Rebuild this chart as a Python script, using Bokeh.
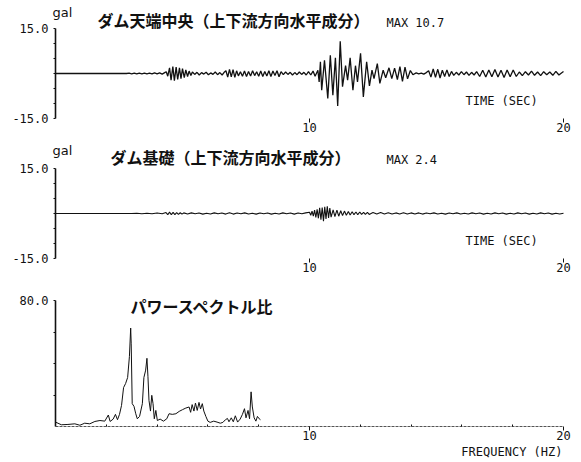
from bokeh.plotting import figure
from bokeh.models import Range1d, FixedTicker, PrintfTickFormatter, Label
from bokeh.layouts import column
from bokeh.embed import file_html
from bokeh.resources import INLINE

# ---------------- data ----------------
crest_title = "ダム天端中央（上下流方向水平成分）"
crest_max = "MAX 10.7"
crest_t = [0.0, 2.8,
           2.9, 3.0, 3.1, 3.2, 3.3, 3.4, 3.5, 3.6, 3.7, 3.8, 3.9, 4.0, 4.1, 4.2, 4.3,
           4.36, 4.42, 4.49, 4.55, 4.62, 4.68, 4.75, 4.81, 4.88, 4.94, 5.0, 5.07, 5.13, 5.2, 5.26, 5.33, 5.39,
           5.48, 5.57, 5.66, 5.75, 5.84, 5.93, 6.02, 6.11, 6.2, 6.29, 6.38, 6.47, 6.56, 6.64,
           6.71, 6.78, 6.85, 6.92, 6.99, 7.06, 7.13, 7.2,
           7.28, 7.36, 7.44, 7.52, 7.6, 7.68, 7.76, 7.84, 7.92, 8.0, 8.08, 8.16, 8.24, 8.32, 8.4, 8.48, 8.56, 8.64, 8.72, 8.8, 8.88,
           8.97, 9.06, 9.15, 9.24, 9.33, 9.42, 9.51, 9.6, 9.69, 9.78, 9.87, 9.96, 10.05, 10.14, 10.22,
           10.33, 10.38, 10.43, 10.48, 10.59, 10.72, 10.82, 10.92, 11.02, 11.11, 11.21, 11.3, 11.42, 11.5, 11.6, 11.71,
           11.81, 11.89, 12.01, 12.12, 12.25, 12.36, 12.46, 12.54, 12.67, 12.77, 12.9, 13.0, 13.13, 13.24,
           13.35, 13.46, 13.56, 13.66, 13.76, 13.86, 13.97, 14.07,
           14.2, 14.3, 14.4, 14.5, 14.6,
           14.69, 14.78, 14.87, 14.96, 15.05, 15.14, 15.23, 15.32, 15.41, 15.5, 15.59, 15.68,
           15.78, 15.88, 15.98, 16.08, 16.18, 16.28, 16.38, 16.48, 16.58,
           16.7, 16.82, 16.94, 17.06, 17.18, 17.3, 17.42, 17.54, 17.66, 17.78, 17.9, 18.02, 18.14,
           18.26, 18.38, 18.5, 18.62, 18.74, 18.86, 18.98, 19.1, 19.22, 19.34, 19.46, 19.58, 19.7, 19.82, 19.92, 20.0]
crest_v = [0.0, 0.0,
           0.1, -0.1, 0.1, -0.15, 0.1, -0.1, 0.15, -0.1, 0.1, -0.15, 0.2, -0.15, 0.2, -0.2, 0.3,
           0.6, -0.9, 1.9, -2.2, 2.3, -2.4, 2.1, -2.0, 1.9, -1.7, 1.6, -1.4, 1.2, -1.0, 0.8, -0.7, 0.5,
           -0.3, 0.4, -0.5, 0.3, -0.2, 0.4, -0.4, 0.2, -0.3, 0.5, -0.4, 0.3, -0.5, 0.4,
           0.9, -1.2, 1.4, -1.1, 1.3, -1.3, 0.9, -0.8,
           0.6, -0.9, 0.8, -1.0, 0.7, -0.8, 0.9, -0.7, 0.6, -0.9, 0.8, -1.0, 0.7, -0.8, 0.9, -1.0, 0.8, -0.7, 0.9, -1.1, 0.6,
           -0.4, 0.5, -0.3, 0.4, -0.5, 0.3, -0.4, 0.5, -0.3, 0.4, -0.5, 0.6, -0.5, 0.8, -0.9,
           1.1, -2.8, 3.9, -5.6, 4.4, -8.3, 6.1, -7.2, 5.2, -10.8, 10.7, -4.4, 2.6, -2.2, 5.2, -5.6,
           2.6, -2.8, 6.7, -7.8, 3.9, -4.1, 1.1, -1.7, 3.3, -3.3, 1.1, -1.4, 1.9, -1.7,
           1.8, -2.0, 2.3, -2.6, 2.1, -1.8, 1.0, -0.4,
           0.2, -0.1, 0.15, -0.2, 0.3,
           0.9, -1.2, 1.5, -1.3, 1.4, -1.5, 1.1, -1.0, 1.2, -1.0, 0.7, -0.6,
           0.4, -0.5, 0.6, -0.4, 0.5, -0.6, 0.4, -0.5, 0.6,
           -1.0, 1.1, -1.2, 1.2, -1.1, 1.3, -1.2, 1.1, -1.3, 1.2, -1.1, 1.2, -1.0,
           0.5, -0.7, 0.6, -0.5, 0.8, -0.6, 0.5, -0.7, 0.6, -0.4, 0.5, -0.6, 0.7, -0.5, 0.2, 0.7]

found_title = "ダム基礎（上下流方向水平成分）"
found_max = "MAX 2.4"
found_t = [0.0, 3.0,
           3.2, 3.4, 3.6, 3.8, 4.0, 4.2,
           4.35, 4.42, 4.49, 4.56, 4.63, 4.7, 4.77, 4.84, 4.91, 4.98, 5.05,
           5.2, 5.35, 5.5, 5.65, 5.8, 5.95, 6.1, 6.25, 6.4, 6.55, 6.7, 6.85, 7.0, 7.15, 7.3, 7.45, 7.6, 7.75, 7.9,
           8.05, 8.2, 8.35, 8.5, 8.65, 8.8, 8.95, 9.1, 9.25, 9.4, 9.55, 9.7, 9.85,
           10.0, 10.05, 10.1, 10.15, 10.2, 10.25, 10.3, 10.35, 10.4, 10.45, 10.5, 10.55, 10.6, 10.65, 10.7, 10.75, 10.8, 10.85,
           10.93, 11.0, 11.08, 11.15, 11.23, 11.3, 11.38, 11.45, 11.53, 11.6, 11.68, 11.75, 11.83, 11.9, 11.98, 12.05, 12.13, 12.2, 12.28, 12.35,
           12.5, 12.65, 12.8, 12.95, 13.1, 13.25, 13.4, 13.55, 13.7, 13.85, 14.0, 14.15, 14.3, 14.45, 14.6, 14.75, 14.9,
           15.05, 15.2, 15.35, 15.5, 15.65, 15.8, 15.95, 16.1, 16.25, 16.4, 16.55, 16.7, 16.85, 17.0, 17.15, 17.3, 17.45,
           17.6, 17.75, 17.9, 18.05, 18.2, 18.35, 18.5, 18.65, 18.8, 18.95, 19.1, 19.25, 19.4, 19.55, 19.7, 19.85, 20.0]
found_v = [0.0, 0.0,
           0.1, -0.1, 0.1, -0.1, 0.15, -0.1,
           0.3, -0.4, 0.45, -0.4, 0.35, -0.4, 0.3, -0.3, 0.25, -0.2, 0.2,
           -0.15, 0.2, -0.1, 0.15, -0.2, 0.1, -0.15, 0.2, -0.1, 0.15, -0.2, 0.25, -0.2, 0.15, -0.1, 0.2, -0.15, 0.1, -0.2,
           0.15, -0.1, 0.15, -0.2, 0.1, -0.15, 0.2, -0.1, 0.15, -0.2, 0.15, -0.1, 0.2,
           0.4, -0.6, 0.8, -0.9, 1.1, -1.3, 1.4, -1.6, 1.9, -2.1, 2.0, -2.6, 2.2, -1.8, 2.4, -1.5, 1.8, -1.2,
           1.2, -1.0, 1.1, -0.9, 0.9, -0.7, 0.8, -0.6, 0.7, -0.5, 0.6, -0.4, 0.5, -0.4, 0.5, -0.3, 0.4, -0.3, 0.4, -0.3,
           0.3, -0.2, 0.3, -0.2, 0.25, -0.2, 0.2, -0.15, 0.25, -0.2, 0.2, -0.15, 0.2, -0.2, 0.15, -0.1, 0.2,
           -0.15, 0.1, -0.2, 0.15, -0.1, 0.2, -0.15, 0.1, -0.15, 0.2, -0.1, 0.15, -0.2, 0.1, -0.15, 0.2, -0.1,
           0.15, -0.2, 0.1, -0.15, 0.2, -0.1, 0.15, -0.2, 0.1, -0.15, 0.2, -0.1, 0.15, -0.2, 0.1, -0.15, 0.1]

spec_title = "パワースペクトル比"
spec_f = [0.0, 0.23, 0.49, 0.76, 0.96, 1.15, 1.35, 1.55, 1.75, 1.94, 2.08, 2.15, 2.27, 2.36, 2.44, 2.52,
          2.60, 2.68, 2.76, 2.84, 2.91, 2.96, 2.98, 3.02, 3.09, 3.16, 3.22, 3.31, 3.42, 3.48, 3.55, 3.60,
          3.64, 3.68, 3.74, 3.79, 3.84, 3.89, 3.95, 4.01, 4.12, 4.25, 4.38, 4.47, 4.60, 4.74, 4.87, 5.00,
          5.13, 5.26, 5.32, 5.38, 5.45, 5.51, 5.58, 5.65, 5.71, 5.78, 5.84, 5.92, 6.00, 6.09, 6.23, 6.36,
          6.49, 6.59, 6.69, 6.77, 6.83, 6.92, 7.00, 7.08, 7.17, 7.27, 7.36, 7.44, 7.50, 7.58, 7.64, 7.70,
          7.75, 7.82, 7.89, 7.95, 8.02, 8.07]
spec_v = [2.8, 1.1, 1.3, 1.7, 0.8, 2.1, 1.7, 3.2, 3.8, 3.4, 7.3, 3.2, 4.7, 7.7, 4.3, 7.7,
          13.4, 24.7, 27.3, 31.1, 44.4, 62.5, 52.9, 14.5, 12.8, 8.1, 4.9, 6.4, 14.5, 31.1, 35.8, 43.3,
          31.6, 16.6, 9.8, 19.8, 14.5, 4.9, 10.2, 3.8, 4.7, 3.4, 4.9, 8.1, 7.7, 8.1, 9.6, 10.7,
          11.7, 12.4, 9.0, 13.9, 9.8, 14.9, 10.2, 15.3, 11.1, 14.5, 9.8, 6.4, 3.4, 2.6, 3.4, 2.8,
          2.1, 2.6, 4.3, 5.1, 3.0, 5.5, 3.0, 6.8, 2.8, 4.7, 7.7, 11.3, 5.5, 10.2, 4.9, 22.0,
          12.4, 5.5, 3.4, 6.4, 4.9, 4.3]

time_ticks = [10, 20]
freq_minor = [2, 4, 6, 8, 12, 14, 16, 18]
gal_ticks = [-15, 15]
gal_minor = [-10, -5, 0, 5, 10]
spec_ticks = [80]
spec_minor = [20, 40, 60]

MONO = "DejaVu Sans Mono"
JP = "Noto Sans CJK JP"
INK = "#111111"
W = 581
# horizontal scale: 0 -> 55px, 20 -> 563px
XR = (-55 / 25.4, (W - 55) / 25.4)


def base(h, yr):
    p = figure(width=W, height=h, x_range=Range1d(*XR), y_range=Range1d(*yr),
               output_backend="svg", toolbar_location=None,
               min_border_left=0, min_border_right=0,
               min_border_top=0, min_border_bottom=0)
    p.grid.visible = False
    p.outline_line_color = None
    p.background_fill_color = "white"
    p.border_fill_color = "white"
    ya = p.yaxis[0]
    ya.fixed_location = 0
    ya.axis_line_width = 1.6
    ya.axis_line_color = INK
    ya.major_tick_in = 0
    ya.major_tick_out = 2
    ya.minor_tick_in = 0
    ya.minor_tick_out = 2
    ya.major_tick_line_color = INK
    ya.minor_tick_line_color = INK
    ya.major_label_standoff = 5
    ya.formatter = PrintfTickFormatter(format="%.1f")
    ya.major_label_text_font = MONO
    ya.major_label_text_font_size = "12px"
    ya.major_label_text_color = INK
    xa = p.xaxis[0]
    xa.bounds = (0, 20)
    xa.major_tick_in = 0
    xa.major_tick_out = 4
    xa.minor_tick_in = 0
    xa.minor_tick_out = 0
    xa.major_tick_line_color = INK
    xa.major_label_standoff = 0
    xa.major_label_text_align = "right"
    xa.major_label_text_font = MONO
    xa.major_label_text_font_size = "12px"
    xa.major_label_text_color = INK
    return p


def add_label(p, x, y, text, font, size, align="left", weight="normal"):
    p.add_layout(Label(x=x, y=y, text=text, text_font=font, text_font_size=size,
                       text_baseline="middle", text_align=align, text_color=INK,
                       text_font_style=weight))


# panels 1 & 2: 140 px tall, 15 gal at 28px, -15 gal at 118px
TR = (-15 - 22 / 3, 15 + 28 / 3)


def trace_panel(t, v, title, title_x, title_y, mx, mx_y, gal_y, lw):
    p = base(140, TR)
    ya = p.yaxis[0]
    ya.ticker = FixedTicker(ticks=gal_ticks, minor_ticks=gal_minor)
    ya.bounds = (-15, 15)
    xa = p.xaxis[0]
    xa.ticker = FixedTicker(ticks=time_ticks)
    xa.fixed_location = -15
    xa.axis_line_color = None
    p.line(t, v, line_color=INK, line_width=lw)
    add_label(p, -0.12, gal_y, "gal", "DejaVu Sans", "13px")
    add_label(p, title_x, title_y, title, JP, "16px", weight="bold")
    add_label(p, 13.03, mx_y, mx, MONO, "12px")
    add_label(p, 16.14, -9, "TIME (SEC)", MONO, "12px")
    return p


p1 = trace_panel(crest_t, crest_v, crest_title, 1.65, 17.67, crest_max, 17.0, 20.33, 1.3)
p2 = trace_panel(found_t, found_v, found_title, 2.17, 18.67, found_max, 17.67, 21.0, 1.1)

# panel 3: 182 px tall, 80 at 20px, 0 at 146px
p3 = base(182, (-36 / 1.575, 80 + 20 / 1.575))
ya3 = p3.yaxis[0]
ya3.ticker = FixedTicker(ticks=spec_ticks, minor_ticks=spec_minor)
ya3.bounds = (0, 80)
xa3 = p3.xaxis[0]
xa3.fixed_location = 0
xa3.ticker = FixedTicker(ticks=time_ticks, minor_ticks=freq_minor)
xa3.axis_line_dash = "3 1"
xa3.axis_line_color = "#555555"
xa3.minor_tick_in = 2
xa3.minor_tick_out = 0
xa3.minor_tick_line_color = INK
p3.line(spec_f, spec_v, line_color=INK, line_width=1)
add_label(p3, 2.95, 76.8, spec_title, JP, "16px", weight="bold")
add_label(p3, 19.96, -16.5, "FREQUENCY (HZ)", MONO, "12px", align="right")

layout = column(p1, p2, p3, spacing=0)
open("out.html", "w").write(file_html(layout, INLINE))
